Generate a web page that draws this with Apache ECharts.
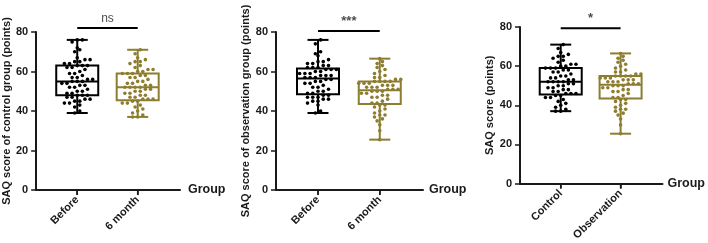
<!DOCTYPE html>
<html>
<head>
    <meta charset="utf-8">
    <title>SAQ score</title>
    <script src="https://cdn.jsdelivr.net/npm/echarts@6/dist/echarts.min.js"></script>
    <style>
        html, body { margin: 0; padding: 0; background: #fff; }
    </style>
</head>
<body>
    <div id="main" style="width: 708px;height:243px;"></div>

    <script type="text/javascript">
        // individual scores
        var controlBefore = [39, 40, 42, 43, 44, 44, 45, 45, 46, 46, 47, 47, 48, 48,
            48, 49, 49, 50, 50, 51, 52, 52, 53, 53, 54, 54, 55, 55,
            55, 56, 56, 57, 57, 58, 59, 59, 60, 61, 62, 62, 63, 63,
            63, 64, 64, 65, 65, 66, 66, 67, 70, 71, 72, 75, 76, 76];
        var control6m = [37, 37, 38, 39, 40, 41, 42, 43, 44, 44, 45, 45, 46, 46,
            46, 47, 47, 48, 48, 49, 49, 50, 50, 51, 51, 52, 52, 52,
            52, 53, 53, 54, 54, 55, 55, 56, 57, 57, 58, 58, 59, 59,
            59, 60, 60, 61, 61, 62, 63, 64, 65, 65, 66, 67, 69, 71];
        var obsBefore = [39, 40, 43, 44, 45, 45, 46, 46, 47, 47, 47, 48, 48, 49,
            49, 50, 50, 51, 52, 52, 53, 54, 54, 55, 55, 56, 56, 57,
            57, 57, 58, 58, 58, 59, 59, 59, 60, 60, 61, 61, 61, 62,
            62, 62, 63, 63, 64, 64, 65, 65, 66, 68, 69, 70, 74, 76];
        var obs6m = [25.5, 30, 33, 35, 36, 37, 38, 38, 39, 40, 41, 42, 43, 43,
            44, 44, 45, 46, 47, 47, 48, 48, 49, 49, 50, 50, 50, 51,
            51, 51, 52, 52, 52, 53, 53, 53, 54, 54, 54, 55, 55, 55,
            55, 56, 56, 57, 57, 58, 59, 60, 61, 62, 63, 64, 65, 66.5];

        // box stats [min, q1, median, q3, max]
        var boxControlBefore = [39, 48, 55, 63, 76];
        var boxControl6m = [37, 45.5, 52, 59, 71];
        var boxObsBefore = [39, 48.5, 56.5, 61.5, 76];
        var boxObs6m = [25.5, 43.5, 50.5, 55, 66.5];

        var categories1 = ['Before', '6 month'];
        var categories2 = ['Before', '6 month'];
        var categories3 = ['Control', 'Observation'];
        var yTitles = ['SAQ score of control group (points)', 'SAQ score of observation group (points)', 'SAQ score (points)'];
        var sigLabels = ['ns', '***', '*'];
        var sigLevels = [82, 80.5, 79.3];

        var BLACK = '#000000';
        var OLIVE = '#8d7d30';
        var INK = '#1a1a1a';
        var FONT = 'Liberation Sans, Arial';
        var BOX_W = 42, CAP_W = 21;

        var panels = [
            { cats: categories1, pts: [controlBefore, control6m], box: [boxControlBefore, boxControl6m],
              grid: { left: 33, top: 32, width: 147, height: 158 }, nameGap: 14, groupGap: 8 },
            { cats: categories2, pts: [obsBefore, obs6m], box: [boxObsBefore, boxObs6m],
              grid: { left: 276, top: 32, width: 147, height: 158 }, nameGap: 17, groupGap: 6 },
            { cats: categories3, pts: [control6m, obs6m], box: [boxControl6m, boxObs6m],
              grid: { left: 520, top: 27, width: 149, height: 157 }, nameGap: 19, groupGap: 5 }
        ];

        // simple beeswarm: points in the same value band are spread sideways
        function swarm(vals, center) {
            var bins = {};
            vals.forEach(function (v) {
                var k = Math.round(v / 2.5);
                (bins[k] = bins[k] || []).push(v);
            });
            var out = [];
            Object.keys(bins).forEach(function (k) {
                var list = bins[k];
                list.forEach(function (v, i) {
                    out.push([center + (i - (list.length - 1) / 2) * 0.085, v]);
                });
            });
            return out;
        }

        function renderBox(params, api) {
            var x = api.value(0);
            var pMin = api.coord([x, api.value(1)]);
            var pQ1 = api.coord([x, api.value(2)]);
            var pMed = api.coord([x, api.value(3)]);
            var pQ3 = api.coord([x, api.value(4)]);
            var pMax = api.coord([x, api.value(5)]);
            var pBase = api.coord([x, 0]);
            var cx = pMed[0];
            var color = api.visual('color');
            var st = { stroke: color, lineWidth: 2, fill: null };
            return {
                type: 'group',
                children: [
                    { type: 'rect', shape: { x: cx - BOX_W / 2, y: pQ3[1], width: BOX_W, height: pQ1[1] - pQ3[1] }, style: st },
                    { type: 'line', shape: { x1: cx - BOX_W / 2, y1: pMed[1], x2: cx + BOX_W / 2, y2: pMed[1] }, style: st },
                    { type: 'line', shape: { x1: cx, y1: pQ3[1], x2: cx, y2: pMax[1] }, style: st },
                    { type: 'line', shape: { x1: cx, y1: pQ1[1], x2: cx, y2: pMin[1] }, style: st },
                    { type: 'line', shape: { x1: cx - CAP_W / 2, y1: pMax[1], x2: cx + CAP_W / 2, y2: pMax[1] }, style: st },
                    { type: 'line', shape: { x1: cx - CAP_W / 2, y1: pMin[1], x2: cx + CAP_W / 2, y2: pMin[1] }, style: st },
                    // category tick under the axis
                    { type: 'line', shape: { x1: cx, y1: pBase[1], x2: cx, y2: pBase[1] + 5 }, style: { stroke: INK, lineWidth: 1.5 } }
                ]
            };
        }

        var grids = [], xAxes = [], yAxes = [], series = [];

        panels.forEach(function (p, i) {
            grids.push(p.grid);
            xAxes.push({
                type: 'value', gridIndex: i, min: -0.68, max: 1.7,
                splitLine: { show: false },
                axisLine: { onZero: false, lineStyle: { color: INK, width: 2 } },
                axisTick: { show: true, length: 5, lineStyle: { width: 1.5, color: INK }, customValues: [0, 1] },
                axisLabel: {
                    customValues: [0, 1], rotate: 45, margin: 8, fontSize: 11,
                    fontFamily: FONT, fontWeight: 'bold', color: INK,
                    formatter: (function (cats) { return function (v) { return cats[Math.round(v)]; }; })(p.cats)
                },
                name: 'Group', nameLocation: 'end', nameGap: p.groupGap,
                nameTextStyle: { fontFamily: FONT, fontWeight: 'bold', fontSize: 12.5, color: INK }
            });
            yAxes.push({
                type: 'value', gridIndex: i, min: 0, max: 80, interval: 20,
                splitLine: { show: false },
                axisLine: { show: true, onZero: false, lineStyle: { color: INK, width: 2 } },
                axisTick: { show: true, length: 5, lineStyle: { width: 1.5, color: INK } },
                axisLabel: { margin: 8, fontSize: 11, fontFamily: FONT, fontWeight: 'bold', color: INK },
                name: yTitles[i], nameLocation: 'middle', nameGap: p.nameGap,
                nameTextStyle: { fontFamily: FONT, fontWeight: 'bold', fontSize: 11, color: INK }
            });
            series.push({
                type: 'custom', xAxisIndex: i, yAxisIndex: i, clip: false,
                renderItem: renderBox,
                encode: { x: 0, y: [1, 2, 3, 4, 5] },
                data: [
                    { value: [0].concat(p.box[0]), itemStyle: { color: BLACK } },
                    { value: [1].concat(p.box[1]), itemStyle: { color: OLIVE } }
                ],
                z: 2
            });
            [BLACK, OLIVE].forEach(function (c, g) {
                series.push({
                    type: 'scatter', xAxisIndex: i, yAxisIndex: i,
                    symbolSize: 3.6, itemStyle: { color: c, opacity: 1 },
                    data: swarm(p.pts[g], g), z: 3
                });
            });
            // significance bar
            series.push({
                type: 'line', xAxisIndex: i, yAxisIndex: i, clip: false,
                symbol: 'none', lineStyle: { color: BLACK, width: 2 },
                data: [[0, sigLevels[i]], [1, sigLevels[i]]], z: 4
            });
            series.push({
                type: 'scatter', xAxisIndex: i, yAxisIndex: i, clip: false,
                symbolSize: 0, silent: true,
                label: {
                    show: true, position: 'top', distance: 3, formatter: sigLabels[i],
                    fontFamily: FONT, fontSize: i === 0 ? 12 : 13,
                    fontWeight: i === 0 ? 'normal' : 'bold', color: INK
                },
                data: [[0.5, sigLevels[i]]], z: 4
            });
        });

        var myChart = echarts.init(document.getElementById('main'));
        myChart.setOption({
            animation: false,
            grid: grids,
            xAxis: xAxes,
            yAxis: yAxes,
            series: series
        });
    </script>
</body>
</html>
